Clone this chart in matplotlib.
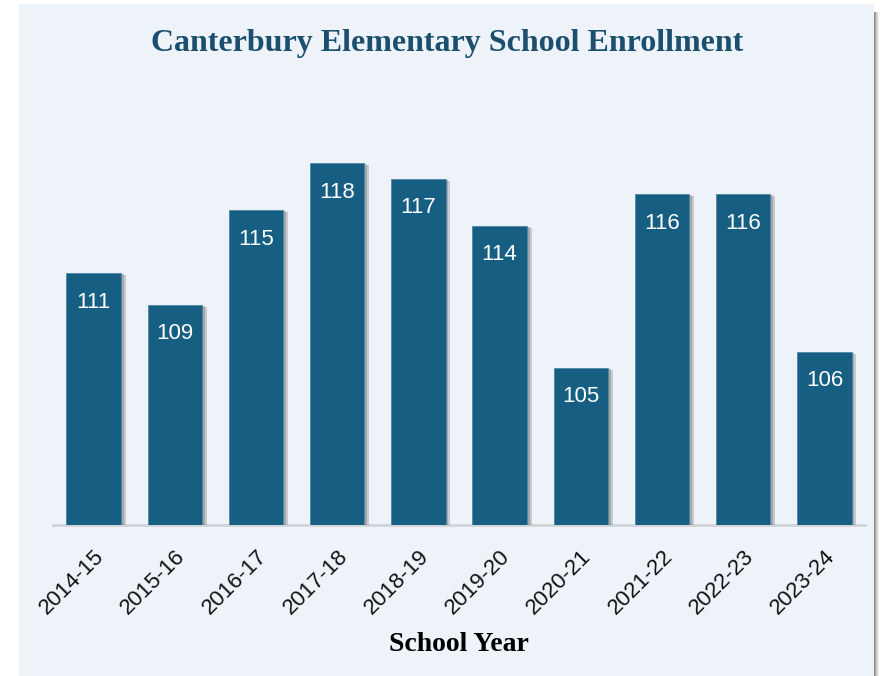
import matplotlib
matplotlib.use('Agg')
import matplotlib.pyplot as plt
import matplotlib.patheffects as pe
from matplotlib.patches import Rectangle

# enrollment per school year
years = ['2014-15', '2015-16', '2016-17', '2017-18', '2018-19',
         '2019-20', '2020-21', '2021-22', '2022-23', '2023-24']
enrollment = [111, 109, 115, 118, 117, 114, 105, 116, 116, 106]

bar_color = '#175f82'
card_color = '#eef3fa'
title_color = '#1b4f6d'

W, H = 880, 676
fig = plt.figure(figsize=(W/100, H/100), dpi=100)
fig.patch.set_facecolor('white')

# card background with a soft shadow on the right
for i, a in enumerate([0.18, 0.14, 0.10, 0.07, 0.04, 0.02]):
    fig.patches.append(Rectangle((20/W, 0), (855+i)/W, (H-12)/H,
                                 transform=fig.transFigure, facecolor='black',
                                 alpha=a, edgecolor='none', zorder=-3))
fig.patches.append(Rectangle((19/W, 0), 855/W, (H-4)/H, transform=fig.transFigure,
                             facecolor=card_color, edgecolor='none', zorder=-2))

ax = fig.add_axes([53/W, 1-525/H, 812/W, 25*15.75/H])
ax.set_facecolor('none')
x = range(len(years))
bars = ax.bar(x, enrollment, width=0.67, color=bar_color,
              edgecolor='#4f86a4', linewidth=0.6, zorder=3)
for b in bars:
    b.set_path_effects([pe.SimplePatchShadow(offset=(3.5, -1.5), shadow_rgbFace='#555555', alpha=0.25),
                        pe.SimplePatchShadow(offset=(2, -0.8), shadow_rgbFace='#555555', alpha=0.3),
                        pe.Normal()])

for xi, v in zip(x, enrollment):
    ax.annotate(str(v), (xi, v), xytext=(0, -13.5), textcoords='offset points',
                ha='center', va='top', color='white', fontsize=16,
                family='Liberation Sans', zorder=4)

ax.set_xlim(-0.5, len(years)-0.5)
ax.set_ylim(95, 120)
for s in ['top', 'right', 'left']:
    ax.spines[s].set_visible(False)
ax.spines['bottom'].set_color('#d0d4d8')
ax.spines['bottom'].set_linewidth(2)
ax.spines['bottom'].set_zorder(2)
ax.set_yticks([])
ax.set_xticks(list(x))
ax.set_xticklabels(years, rotation=45, ha='right', rotation_mode='anchor',
                   fontsize=16, family='Liberation Sans', color='#111111')
ax.tick_params(axis='x', length=0, pad=15)

ax.set_xlabel('School Year', fontsize=20, fontweight='bold', family='Liberation Serif',
              labelpad=10)
fig.text(447/W, 1-44/H, 'Canterbury Elementary School Enrollment', ha='center', va='center',
         fontsize=23, fontweight='bold', family='Liberation Serif', color=title_color)

fig.savefig('out.png', dpi=100)
